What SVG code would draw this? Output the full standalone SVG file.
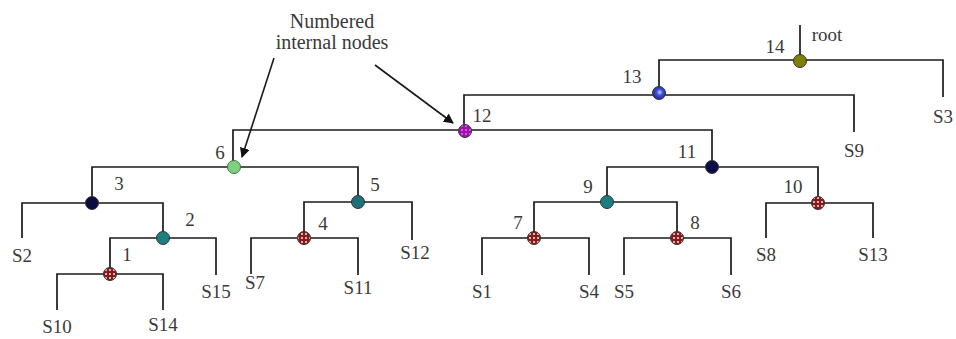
<svg xmlns="http://www.w3.org/2000/svg" width="956" height="339" viewBox="0 0 956 339">
<style>
.e{fill:none;stroke:#1a1a1a;stroke-width:1.7}
.t{font-family:"Liberation Serif","Times New Roman",serif;font-size:19px;fill:#3a3a3a;text-anchor:middle}
.a{font-family:"Liberation Serif","Times New Roman",serif;font-size:20px;fill:#3a3a3a;text-anchor:middle}
.n{stroke:#333;stroke-width:1}
.ar{stroke:#1a1a1a;stroke-width:1.6;fill:none}
</style>
<defs>
<marker id="ah" viewBox="0 0 10 10" refX="9" refY="5" markerWidth="10" markerHeight="10" markerUnits="userSpaceOnUse" orient="auto">
<path d="M0,0 L10,5 L0,10 z" fill="#111"/>
</marker>
<pattern id="dots" width="4" height="4" patternUnits="userSpaceOnUse">
<rect width="4" height="4" fill="#8a1a1a"/>
<circle cx="2" cy="2" r="1" fill="#f4e0e0"/>
</pattern>
<pattern id="pdots" width="4" height="4" patternUnits="userSpaceOnUse">
<rect width="4" height="4" fill="#a010b0"/>
<circle cx="2" cy="2" r="0.9" fill="#e080e8"/>
</pattern>
<radialGradient id="blue" cx="0.55" cy="0.45" r="0.6">
<stop offset="0" stop-color="#c0d0ff"/>
<stop offset="0.4" stop-color="#4050d0"/>
<stop offset="1" stop-color="#1a2090"/>
</radialGradient>
</defs>
<g id="connectors">
<path class="e" d="M800,25 V61"/>
<path class="e" d="M659,95 V60 H943 V97"/>
<path class="e" d="M464,132 V95 H854 V132"/>
<path class="e" d="M233,167 V130 H712 V167"/>
<path class="e" d="M92,203 V167 H358 V202"/>
<path class="e" d="M22,238 V203 H163 V238"/>
<path class="e" d="M110,274 V238 H216 V275"/>
<path class="e" d="M57,310 V274 H163 V310"/>
<path class="e" d="M304,238 V202 H412 V240"/>
<path class="e" d="M251,274 V238 H358 V275"/>
<path class="e" d="M607,202 V167 H818 V203"/>
<path class="e" d="M534,238 V202 H677 V238"/>
<path class="e" d="M482,275 V238 H589 V275"/>
<path class="e" d="M624,275 V238 H731 V275"/>
<path class="e" d="M766,238 V203 H873 V238"/>
<line class="ar" x1="274" y1="58" x2="242" y2="157" marker-end="url(#ah)"/>
<line class="ar" x1="375" y1="65" x2="453" y2="123" marker-end="url(#ah)"/>
</g>
<g id="annotation">
<text class="a" x="332" y="28">Numbered</text>
<text class="a" x="332" y="49">internal nodes</text>
</g>
<g id="node14"><circle class="n" cx="800" cy="61" r="6.5" fill="#7f7f08"/><text class="t" x="775" y="53">14</text><text class="t" x="827" y="41">root</text></g>
<g id="node13"><circle class="n" cx="659" cy="93" r="6.5" fill="url(#blue)"/><text class="t" x="632" y="83">13</text></g>
<g id="node12"><circle class="n" cx="465" cy="131" r="6.5" fill="url(#pdots)"/><text class="t" x="482" y="122">12</text></g>
<g id="node11"><circle class="n" cx="712" cy="167" r="6.5" fill="#0c0c48"/><text class="t" x="687" y="158">11</text></g>
<g id="node10"><circle class="n" cx="818" cy="203" r="6.5" fill="url(#dots)"/><text class="t" x="793" y="193">10</text></g>
<g id="node9"><circle class="n" cx="607" cy="202" r="6.5" fill="#1a7f80"/><text class="t" x="588" y="193">9</text></g>
<g id="node8"><circle class="n" cx="677" cy="238" r="6.5" fill="url(#dots)"/><text class="t" x="695" y="229">8</text></g>
<g id="node7"><circle class="n" cx="534" cy="238" r="6.5" fill="url(#dots)"/><text class="t" x="518" y="229">7</text></g>
<g id="node6"><circle cx="234" cy="167" r="6.5" fill="#7fd07f" stroke="#3a7a3a" stroke-width="1"/><text class="t" x="220" y="159">6</text></g>
<g id="node5"><circle class="n" cx="358" cy="202" r="6.5" fill="#1e707a"/><text class="t" x="375" y="191">5</text></g>
<g id="node4"><circle class="n" cx="304" cy="238" r="6.5" fill="url(#dots)"/><text class="t" x="323" y="230">4</text></g>
<g id="node3"><circle class="n" cx="92" cy="203" r="6.5" fill="#0c0c40"/><text class="t" x="119" y="190">3</text></g>
<g id="node2"><circle class="n" cx="163" cy="238" r="6.5" fill="#1e7f80"/><text class="t" x="190" y="226">2</text></g>
<g id="node1"><circle class="n" cx="110" cy="274" r="6.5" fill="url(#dots)"/><text class="t" x="127" y="261">1</text></g>
<g id="leaves">
<text class="t" x="943" y="123">S3</text>
<text class="t" x="854" y="157">S9</text>
<text class="t" x="22" y="262">S2</text>
<text class="t" x="216" y="298">S15</text>
<text class="t" x="57" y="333">S10</text>
<text class="t" x="163" y="331">S14</text>
<text class="t" x="255" y="289">S7</text>
<text class="t" x="358" y="294">S11</text>
<text class="t" x="415" y="259">S12</text>
<text class="t" x="482" y="298">S1</text>
<text class="t" x="589" y="298">S4</text>
<text class="t" x="624" y="298">S5</text>
<text class="t" x="731" y="298">S6</text>
<text class="t" x="766" y="261">S8</text>
<text class="t" x="873" y="261">S13</text>
</g>
</svg>
